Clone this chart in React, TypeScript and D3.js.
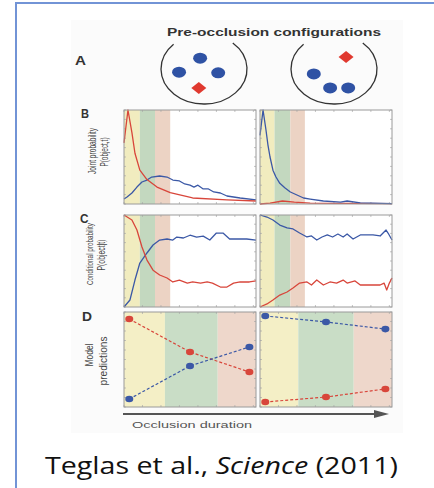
import * as d3 from 'd3';
import React from 'react';

// Panel A: objects inside each ring, in ring-relative units (-1..1)
const ringBlueDots = [
  [[-0.09, -0.31], [-0.58, 0.09], [0.33, 0.11]],
  [[-0.47, 0.14], [-0.09, 0.54], [0.33, 0.54]],
];
const ringRedDiamond = [[-0.12, 0.54], [0.28, -0.34]];

// Panel B: joint probability P(object,t), [t, p]
const jointLeftRed = [[0, 0.65], [3, 1.0], [6, 0.76], [8.3, 0.54], [12, 0.36], [17.4, 0.26], [25, 0.18], [35, 0.12], [52, 0.064], [78, 0.043], [100, 0.032]];
const jointLeftBlue = [[0, 0.053], [2.3, 0.074], [6, 0.117], [9.8, 0.18], [13.6, 0.234], [17.4, 0.255], [21, 0.287], [27, 0.298], [32.6, 0.287], [37, 0.255], [42, 0.245], [46, 0.213], [50, 0.2], [53, 0.18], [56, 0.2], [60, 0.16], [64, 0.16], [68, 0.128], [73, 0.117], [78, 0.085], [88, 0.064], [100, 0.043]];
const jointRightBlue = [[0, 0.73], [2.3, 1.0], [4.5, 0.79], [6, 0.63], [7.6, 0.5], [9.8, 0.36], [12, 0.29], [15, 0.22], [19, 0.17], [23, 0.128], [28, 0.096], [33, 0.064], [38, 0.053], [48, 0.032], [61, 0.021], [66, 0.032], [76, 0.011], [100, 0.005]];
const jointRightRed = [[0, 0], [7.6, 0.01], [17, 0.032], [26, 0.02], [38, 0.01], [100, 0.005]];

// Panel C: conditional probability P(object|t)
const condLeftRed = [[0, 1.0], [6, 0.946], [9.8, 0.837], [13.6, 0.652], [17.4, 0.51], [22, 0.4], [27, 0.348], [32.6, 0.315], [37, 0.272], [42, 0.293], [48, 0.26], [52, 0.272], [58, 0.26], [63, 0.272], [67, 0.26], [73, 0.217], [78, 0.217], [83, 0.26], [88, 0.272], [95, 0.272], [100, 0.283]];
const condLeftBlue = [[0, 0], [4.5, 0.076], [8.3, 0.293], [12, 0.478], [17.4, 0.587], [22, 0.674], [27, 0.728], [32.6, 0.739], [37, 0.728], [40, 0.76], [45, 0.75], [50, 0.78], [55, 0.76], [60, 0.77], [65, 0.728], [70, 0.804], [75, 0.804], [80, 0.739], [86, 0.739], [93, 0.739], [100, 0.728]];
const condRightBlue = [[0, 1.0], [5.3, 0.978], [9.8, 0.946], [15, 0.891], [20.5, 0.859], [25, 0.848], [30, 0.804], [35.6, 0.761], [39, 0.772], [43, 0.728], [47, 0.761], [51, 0.783], [55, 0.761], [59, 0.793], [63, 0.761], [66, 0.793], [70.5, 0.739], [76, 0.783], [81, 0.783], [85.6, 0.783], [91, 0.772], [95.5, 0.837], [97, 0.804], [100, 0.728]];
const condRightRed = [[0, 0], [5.3, 0.033], [9.8, 0.076], [15, 0.13], [20.5, 0.163], [25, 0.207], [30, 0.26], [35.6, 0.272], [39, 0.239], [43, 0.293], [48, 0.239], [53, 0.272], [58, 0.26], [63, 0.293], [66, 0.26], [72, 0.283], [76, 0.239], [83, 0.239], [91, 0.239], [94, 0.26], [96, 0.185], [98, 0.26], [100, 0.315]];

// Panel D: model predictions at three occlusion durations
const modelT = [4, 50, 95];
const modelLeftRed = [0.926, 0.579, 0.368];
const modelLeftBlue = [0.084, 0.432, 0.632];
const modelRightBlue = [0.958, 0.895, 0.82];
const modelRightRed = [0.053, 0.105, 0.19];

// shaded intervals (t units)
const bandsBC = [[0, 12, 23.5, 35], [0, 11, 23, 34]];
const bandsD = [[0, 31, 71, 100], [0, 29, 71, 100]];
const bandColorsBC = ['#f1ecbf', '#c3d8bf', '#ecd3c4'];
const bandColorsD = ['#f4efc6', '#c9ddc6', '#eed7cb'];

const RED = '#d8463b';
const BLUE = '#3b58a6';
const cols = [[124, 256], [260, 392]];

const Panel = ({ x0, x1, y0, y1, bands, colors, series, points }) => {
  const x = d3.scaleLinear().domain([0, 100]).range([x0, x1]);
  const y = d3.scaleLinear().domain([0, 1]).range([y1, y0]);
  const line = d3.line().x(d => x(d[0])).y(d => y(d[1]));
  return (
    <g>
      <rect x={x0} y={y0} width={x1 - x0} height={y1 - y0} fill="#fff" />
      {colors.map((c, i) => (
        <rect key={i} x={x(bands[i])} y={y0} width={x(bands[i + 1]) - x(bands[i])} height={y1 - y0} fill={c} />
      ))}
      {d3.range(0, 101, 14).map(t => (
        <g key={'tx' + t} stroke="#aaa" strokeWidth={0.7}>
          <line x1={x(t)} x2={x(t)} y1={y0} y2={y0 + 2} />
          <line x1={x(t)} x2={x(t)} y1={y1} y2={y1 - 2} />
        </g>
      ))}
      {d3.range(0, 1.01, 0.1).map(v => (
        <g key={'ty' + v} stroke="#aaa" strokeWidth={0.7}>
          <line x1={x0} x2={x0 + 2} y1={y(v)} y2={y(v)} />
          <line x1={x1} x2={x1 - 2} y1={y(v)} y2={y(v)} />
        </g>
      ))}
      {series && series.map((s, i) => (
        <path key={i} d={line(s.data)} fill="none" stroke={s.color} strokeWidth={1.3} strokeLinejoin="round" />
      ))}
      {points && points.map((s, i) => {
        const pts = modelT.map((t, j) => [t, s.data[j]]);
        return (
          <g key={i}>
            <path d={line(pts)} fill="none" stroke={s.color} strokeWidth={1.2} strokeDasharray="3,2" />
            {pts.map((p, j) => (
              <ellipse key={j} cx={x(p[0])} cy={y(p[1])} rx={4} ry={3.3} fill={s.color} />
            ))}
          </g>
        );
      })}
      <rect x={x0} y={y0} width={x1 - x0} height={y1 - y0} fill="none" stroke="#9a9a9a" strokeWidth={1} />
    </g>
  );
};

const Ring = ({ cx, cy, i }) => {
  const rx = 43, ry = 35;
  const sx = d3.scaleLinear().domain([-1, 1]).range([cx - rx, cx + rx]);
  const sy = d3.scaleLinear().domain([-1, 1]).range([cy - ry, cy + ry]);
  const a0 = (-135 * Math.PI) / 180, a1 = (-48 * Math.PI) / 180;
  const p0 = [cx + rx * Math.cos(a0), cy + ry * Math.sin(a0)];
  const p1 = [cx + rx * Math.cos(a1), cy + ry * Math.sin(a1)];
  const d = ringRedDiamond[i];
  const dx = sx(d[0]), dy = sy(d[1]);
  return (
    <g>
      <path d={`M${p0[0]},${p0[1]} A${rx},${ry} 0 1 0 ${p1[0]},${p1[1]}`} fill="none" stroke="#333" strokeWidth={1.3} />
      {ringBlueDots[i].map((b, j) => (
        <ellipse key={j} cx={sx(b[0])} cy={sy(b[1])} rx={7} ry={5.5} fill="#2f52a4" />
      ))}
      <path d={`M${dx - 7.5},${dy} L${dx},${dy - 6} L${dx + 7.5},${dy} L${dx},${dy + 6} Z`} fill="#e0392f" />
    </g>
  );
};

const VLabel = ({ x, y, size, len, text }) => (
  <text transform={`translate(${x},${y}) rotate(-90)`} textAnchor="middle" fontSize={size}
    textLength={len} lengthAdjust="spacingAndGlyphs" fill="#444">{text}</text>
);

const App = () => {
  const font = 'Liberation Sans, Arial, sans-serif';
  return (
    <svg width={434} height={488} style={{ position: 'absolute', left: 0, top: 0, background: '#fff' }} fontFamily={font}>
      <rect x={16} y={3} width={440} height={500} fill="none" stroke="#7294d6" strokeWidth={2} />
      <rect x={71} y={20} width={332} height={413} fill="#fbfbfb" />

      <text x={167} y={36} fontSize={10.5} fontWeight="bold" fill="#333" textLength={214} lengthAdjust="spacingAndGlyphs">Pre-occlusion configurations</text>
      <text x={75} y={65} fontSize={12} fontWeight="bold" fill="#333" textLength={11} lengthAdjust="spacingAndGlyphs">A</text>
      <Ring cx={204} cy={69} i={0} />
      <Ring cx={334} cy={69} i={1} />

      <text x={81} y={118} fontSize={12} fontWeight="bold" fill="#333" textLength={8} lengthAdjust="spacingAndGlyphs">B</text>
      <VLabel x={96} y={151} size={10} len={46} text="Joint probability" />
      <VLabel x={108} y={152} size={10} len={29} text="P(object,t)" />
      <Panel x0={cols[0][0]} x1={cols[0][1]} y0={110} y1={204} bands={bandsBC[0]} colors={bandColorsBC}
        series={[{ data: jointLeftBlue, color: BLUE }, { data: jointLeftRed, color: RED }]} />
      <Panel x0={cols[1][0]} x1={cols[1][1]} y0={110} y1={204} bands={bandsBC[1]} colors={bandColorsBC}
        series={[{ data: jointRightRed, color: RED }, { data: jointRightBlue, color: BLUE }]} />

      <text x={80} y={223} fontSize={12} fontWeight="bold" fill="#333" textLength={8.5} lengthAdjust="spacingAndGlyphs">C</text>
      <VLabel x={93} y={254} size={8.5} len={62} text="Conditional probability" />
      <VLabel x={105} y={255} size={10} len={31} text="P(object|t)" />
      <Panel x0={cols[0][0]} x1={cols[0][1]} y0={215} y1={307} bands={bandsBC[0]} colors={bandColorsBC}
        series={[{ data: condLeftBlue, color: BLUE }, { data: condLeftRed, color: RED }]} />
      <Panel x0={cols[1][0]} x1={cols[1][1]} y0={215} y1={307} bands={bandsBC[1]} colors={bandColorsBC}
        series={[{ data: condRightBlue, color: BLUE }, { data: condRightRed, color: RED }]} />

      <text x={82} y={321} fontSize={12} fontWeight="bold" fill="#333" textLength={10} lengthAdjust="spacingAndGlyphs">D</text>
      <VLabel x={93} y={355} size={11.5} len={23} text="Model" />
      <VLabel x={107} y={361} size={11.5} len={49} text="predictions" />
      <Panel x0={cols[0][0]} x1={cols[0][1]} y0={312} y1={407} bands={bandsD[0]} colors={bandColorsD}
        points={[{ data: modelLeftRed, color: RED }, { data: modelLeftBlue, color: BLUE }]} />
      <Panel x0={cols[1][0]} x1={cols[1][1]} y0={312} y1={407} bands={bandsD[1]} colors={bandColorsD}
        points={[{ data: modelRightBlue, color: BLUE }, { data: modelRightRed, color: RED }]} />

      <line x1={123} x2={378} y1={414} y2={414} stroke="#555" strokeWidth={2} />
      <path d="M374,410 L389,414 L374,418 Z" fill="#555" />
      <text x={132} y={428} fontSize={9.5} fill="#555" textLength={120} lengthAdjust="spacingAndGlyphs">Occlusion duration</text>

      <text x={45} y={474} fontSize={23} fill="#111" fontFamily="Open Sans, sans-serif" textLength={353} lengthAdjust="spacingAndGlyphs">
        Teglas et al., <tspan fontStyle="italic">Science</tspan> (2011)
      </text>
    </svg>
  );
};

export default App;
